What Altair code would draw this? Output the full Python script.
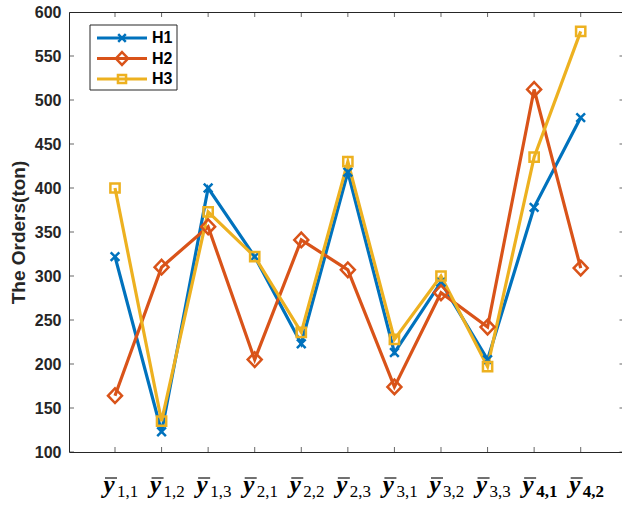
import altair as alt
import pandas as pd

# ---- data ----
SUBS = ["1,1", "1,2", "1,3", "2,1", "2,2", "2,3", "3,1", "3,2", "3,3", "4,1", "4,2"]
BOLD_SUBS = ["4,1", "4,2"]
SERIES = ["H1", "H2", "H3"]
H1 = [322, 123, 400, 322, 223, 418, 213, 293, 205, 378, 480]
H2 = [164, 310, 356, 205, 341, 307, 174, 281, 242, 512, 309]
H3 = [400, 135, 373, 322, 236, 430, 228, 300, 197, 435, 578]
Y_TICKS = [100, 150, 200, 250, 300, 350, 400, 450, 500, 550, 600]
Y_TITLE = "The Orders(ton)"

COLORS = ["#0072BD", "#D95319", "#EDB120"]
SHAPES = [
    "M-0.62,-0.62L0.62,0.62M-0.62,0.62L0.62,-0.62",
    "M0,-1.05L1,0L0,1.05L-1,0Z",
    "M-0.66,-0.66L0.66,-0.66L0.66,0.66L-0.66,0.66Z",
]
AX = "#262626"

rows = []
for name, vals in zip(SERIES, [H1, H2, H3]):
    for s, v in zip(SUBS, vals):
        rows.append({"sub": s, "series": name, "value": v})
df = pd.DataFrame(rows)
xt_df = pd.DataFrame({"sub": SUBS})
norm_df = pd.DataFrame({"sub": [s for s in SUBS if s not in BOLD_SUBS]})
bold_df = pd.DataFrame({"sub": [s for s in SUBS if s in BOLD_SUBS]})
yt_df = pd.DataFrame({"value": Y_TICKS})
leg_df = pd.DataFrame({"series": SERIES})

xs = alt.Scale(type="point", domain=SUBS, padding=0, range=[46, 511.7])
ys = alt.Scale(domain=[100, 600], nice=False, zero=False)
yaxis = alt.Axis(values=Y_TICKS, title=Y_TITLE, domain=False, ticks=False, grid=False,
                 labelFont="Liberation Sans", labelFontWeight="bold", labelFontSize=16,
                 labelColor=AX, labelPadding=8,
                 titleFont="Liberation Sans", titleFontWeight="bold", titleFontSize=19,
                 titleColor=AX, titlePadding=6)
X = alt.X("sub:N", scale=xs, axis=None)
Y = alt.Y("value:Q", scale=ys, axis=yaxis)
color = alt.Color("series:N", scale=alt.Scale(domain=SERIES, range=COLORS), legend=None)
shape = alt.Shape("series:N", scale=alt.Scale(domain=SERIES, range=SHAPES), legend=None)

top_ticks = alt.Chart(xt_df).mark_tick(orient="vertical", size=10, thickness=1, color=AX, clip=True).encode(
    x=X, y=alt.value(0))
bot_ticks = alt.Chart(xt_df).mark_tick(orient="vertical", size=10, thickness=1, color=AX, clip=True).encode(
    x=X, y=alt.value(440))
left_ticks = alt.Chart(yt_df).mark_tick(orient="horizontal", size=10, thickness=1, color=AX, clip=True).encode(
    y=Y, x=alt.value(0))
right_ticks = alt.Chart(yt_df).mark_tick(orient="horizontal", size=5, thickness=1, color=AX, clip=True).encode(
    y=Y, x=alt.value(553))

lines = alt.Chart(df).mark_line(strokeWidth=3.2).encode(x=X, y=Y, color=color)
points = alt.Chart(df).mark_point(filled=False, strokeWidth=2.5, opacity=1, size=196).encode(
    x=X, y=Y, color=color, shape=shape)

lab_y = alt.Chart(xt_df).mark_text(text="y", font="Liberation Serif", fontStyle="italic",
                                   fontWeight="bold", fontSize=25, dx=-6, baseline="alphabetic",
                                   color="black").encode(x=X, y=alt.value(481))
lab_bar = alt.Chart(xt_df).mark_tick(orient="horizontal", size=12, thickness=1.6, xOffset=-4,
                                     color="black").encode(x=X, y=alt.value(466))
lab_sub = alt.Chart(norm_df).mark_text(font="Liberation Serif", fontSize=17, align="left", dx=2,
                                       baseline="alphabetic", color="black").encode(
    x=X, y=alt.value(485), text="sub:N")
lab_sub_b = alt.Chart(bold_df).mark_text(font="Liberation Serif", fontSize=17, fontWeight="bold",
                                         align="left", dx=2, baseline="alphabetic",
                                         color="black").encode(
    x=X, y=alt.value(485), text="sub:N")

main = alt.layer(top_ticks, bot_ticks, left_ticks, right_ticks, lines, points,
                 lab_y, lab_bar, lab_sub, lab_sub_b)

ly = alt.Y("series:N", scale=alt.Scale(type="point", domain=SERIES, range=[26, 67], padding=0),
           axis=None)
box = alt.Chart(pd.DataFrame({"a": [0]})).mark_rect(fill="white", stroke=AX, strokeWidth=1).encode(
    x=alt.value(21), x2=alt.value(108), y=alt.value(13), y2=alt.value(78))
leg_lines = alt.Chart(leg_df).mark_rule(strokeWidth=3.2).encode(
    x=alt.value(28), x2=alt.value(78), y=ly, color=color)
leg_pts = alt.Chart(leg_df).mark_point(filled=False, strokeWidth=2.5, opacity=1, size=150).encode(
    x=alt.value(53), y=ly, color=color, shape=shape)
leg_txt = alt.Chart(leg_df).mark_text(align="left", baseline="middle", font="Liberation Sans",
                                      fontWeight="bold", fontSize=16, color="black").encode(
    x=alt.value(83), y=ly, text="series:N")
legend = alt.layer(box, leg_lines, leg_pts, leg_txt)

chart = alt.layer(main, legend).resolve_scale(y="independent").properties(
    width=553, height=440,
    autosize=alt.AutoSizeParams(type="none"),
    padding={"left": 69, "top": 12, "right": 0, "bottom": 54},
    background="white",
).configure_view(stroke=AX, strokeWidth=1)

chart.save("out.html", embed_options={"renderer": "svg", "actions": False})
